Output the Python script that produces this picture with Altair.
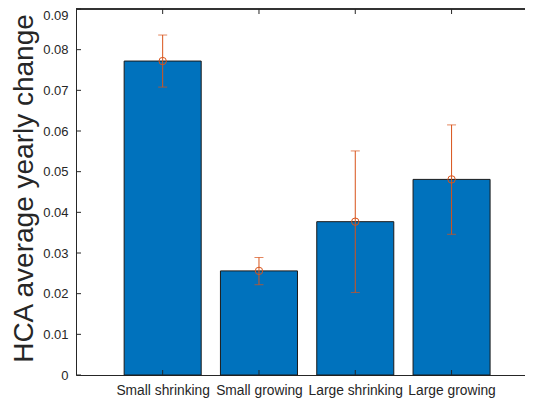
import altair as alt
import pandas as pd

categories = ["Small shrinking", "Small growing", "Large shrinking", "Large growing"]
positions = [1, 2, 3, 4]
means = [0.0772, 0.0256, 0.0377, 0.0481]
lower = [0.0708, 0.0222, 0.0203, 0.0346]
upper = [0.0836, 0.0289, 0.0551, 0.0615]
y_ticks = [0, 0.01, 0.02, 0.03, 0.04, 0.05, 0.06, 0.07, 0.08, 0.09]

W, H = 449, 366
BAR = "#0072BD"
ERR = "#D95319"
AX = "#262626"
FONT = "Liberation Sans"
TITLE = "HCA average yearly change"

df = pd.DataFrame({"cat": categories, "pos": positions, "mean": means, "lo": lower, "hi": upper})
df["x0"] = df["pos"] - 0.4
df["x1"] = df["pos"] + 0.4
ticks_df = pd.DataFrame({"v": y_ticks})

xs = alt.Scale(domain=[0.1, 0.1 + W / 96.3], nice=False, zero=False)
ys = alt.Scale(domain=[0, 0.09], nice=False, zero=False)

label_expr = "[" + ",".join("'" + c + "'" for c in categories) + "][datum.value - 1]"

xa = alt.Axis(
    values=positions, labelExpr=label_expr, tickSize=0, grid=False, title=None,
    domainColor=AX, labelColor=AX, labelFont=FONT, labelFontSize=13.8,
    labelPadding=19, labelBaseline="alphabetic", labelOverlap=False,
    labelBound=False, labelFlush=False)
ya = alt.Axis(
    values=y_ticks, format=".2~f", tickSize=0, grid=False, labelPadding=8,
    domainColor=AX, labelColor=AX, labelFont=FONT, labelFontSize=13,
    labelOffset=alt.condition("datum.value > 0.085", alt.value(6), alt.value(0)),
    title=TITLE, titleFont=FONT, titleFontSize=28,
    titleFontWeight="normal", titleColor=AX, titleAngle=-90, titleX=-44,
    titleY=179, titleAlign="center", titleBaseline="alphabetic")

bars = alt.Chart(df).mark_bar(color=BAR, stroke="#1a1a1a", strokeWidth=1).encode(
    x=alt.X("x0:Q", scale=xs, axis=xa),
    x2="x1:Q",
    y=alt.Y("mean:Q", scale=ys, axis=ya),
    y2=alt.datum(0),
)

err = alt.Chart(df).mark_rule(color=ERR, strokeWidth=1).encode(
    x=alt.X("pos:Q", scale=xs, axis=xa),
    y=alt.Y("lo:Q", scale=ys, axis=ya),
    y2="hi:Q",
)
cap_lo = alt.Chart(df).mark_tick(color=ERR, orient="horizontal", size=9, thickness=1).encode(
    x=alt.X("pos:Q", scale=xs, axis=xa),
    y=alt.Y("lo:Q", scale=ys, axis=ya),
)
cap_hi = alt.Chart(df).mark_tick(color=ERR, orient="horizontal", size=9, thickness=1).encode(
    x=alt.X("pos:Q", scale=xs, axis=xa),
    y=alt.Y("hi:Q", scale=ys, axis=ya),
)
pts = alt.Chart(df).mark_point(shape="circle", filled=False, color=ERR, size=55, strokeWidth=1, opacity=1).encode(
    x=alt.X("pos:Q", scale=xs, axis=xa),
    y=alt.Y("mean:Q", scale=ys, axis=ya),
)

ytick_marks = alt.Chart(ticks_df).mark_rule(color=AX, strokeWidth=1).encode(
    y=alt.Y("v:Q", scale=ys, axis=ya),
    x=alt.value(0),
    x2=alt.value(5),
)
xtick_bottom = alt.Chart(df).mark_rule(color=AX, strokeWidth=1).encode(
    x=alt.X("pos:Q", scale=xs, axis=xa),
    y=alt.value(H),
    y2=alt.value(H - 5),
)
xtick_top = alt.Chart(df).mark_rule(color=AX, strokeWidth=1).encode(
    x=alt.X("pos:Q", scale=xs, axis=xa),
    y=alt.value(0),
    y2=alt.value(5),
)
top_border = alt.Chart(df).mark_rule(color=AX, strokeWidth=1).encode(
    x=alt.value(0),
    x2=alt.value(W),
    y=alt.value(0),
)

chart = alt.layer(
    bars, err, cap_lo, cap_hi, pts, ytick_marks, xtick_bottom, xtick_top, top_border
).properties(
    width=W, height=H,
    autosize=alt.AutoSizeParams(type="none"),
    padding={"left": 68, "top": 1, "right": 0, "bottom": 26},
    background="white",
).configure_view(stroke=None).configure_axis(grid=False, tickSize=0)

chart.save("out.html", embed_options={"renderer": "svg", "actions": False})
